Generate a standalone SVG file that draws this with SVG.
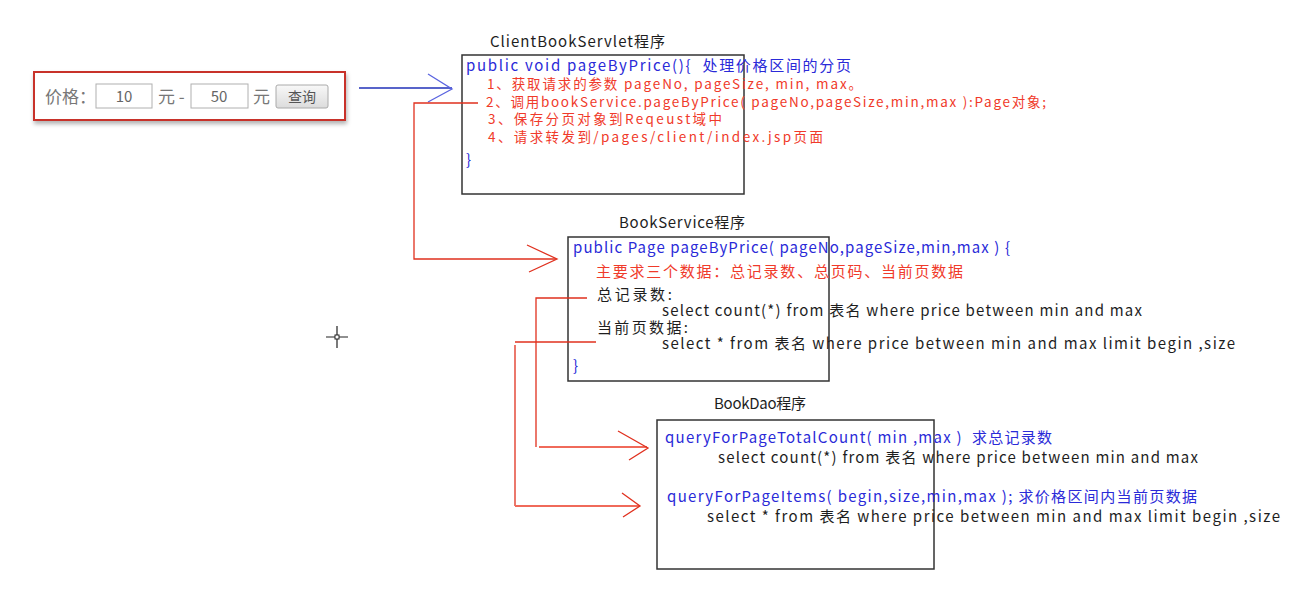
<svg xmlns="http://www.w3.org/2000/svg" width="1316" height="610" viewBox="0 0 1316 610">
<style>
text{font-family:"Noto Sans CJK SC","Liberation Sans",sans-serif;font-size:15px;}
.b{fill:#2a2ad8;}
.r{fill:#f03a2a;}
.s{font-size:13.5px;}
.k{fill:#1e1e1e;}
.box{fill:#fff;stroke:#333;stroke-width:1.5;}
.ln{fill:none;stroke:#e0301e;stroke-width:1.3;}
.ln2{fill:none;stroke:#f06a5a;stroke-width:2;}
.in{fill:#fff;stroke:#b0b0b0;stroke-width:1;}
.ui{fill:#777;font-size:17px;}
</style>
<defs>
<linearGradient id="btn" x1="0" y1="0" x2="0" y2="1">
<stop offset="0" stop-color="#f8f8f8"/><stop offset="1" stop-color="#dcdcdc"/>
</linearGradient>
<filter id="sh" x="-10%" y="-20%" width="120%" height="150%">
<feDropShadow dx="1" dy="3" stdDeviation="2" flood-color="#000" flood-opacity="0.3"/>
</filter>
</defs>
<rect width="1316" height="610" fill="#fff"/>

<g id="priceForm">
<rect x="34" y="72" width="311" height="48" fill="#fff" stroke="#c8302a" stroke-width="2" filter="url(#sh)"/>
<text class="ui" x="45" y="103">价格：</text>
<rect class="in" x="96" y="84" width="56" height="24"/>
<text x="124" y="102" text-anchor="middle" style="fill:#666;font-size:15px">10</text>
<text class="ui" x="158" y="103">元 -</text>
<rect class="in" x="191" y="84" width="57" height="24"/>
<text x="219" y="102" text-anchor="middle" style="fill:#666;font-size:15px">50</text>
<text class="ui" x="253" y="103">元</text>
<rect x="276" y="85" width="52" height="23" rx="2" fill="url(#btn)" stroke="#aaa"/>
<text x="302" y="102" text-anchor="middle" style="fill:#555;font-size:14px">查询</text>
</g>

<g id="clientBookServlet">
<text class="k" x="490" y="47" textLength="175">ClientBookServlet程序</text>
<rect class="box" x="462" y="55" width="282" height="139"/>
<text class="b" x="466" y="71" textLength="385" xml:space="preserve">public void pageByPrice(){  处理价格区间的分页</text>
<text class="r s" x="487" y="89" textLength="375">1、获取请求的参数 pageNo, pageSize, min, max。</text>
<text class="r s" x="486" y="106.5" textLength="560">2、调用bookService.pageByPrice( pageNo,pageSize,min,max ):Page对象;</text>
<text class="r s" x="488" y="124" textLength="234">3、保存分页对象到Reqeust域中</text>
<text class="r s" x="488" y="142" textLength="335">4、请求转发到/pages/client/index.jsp页面</text>
<text class="b" x="466" y="165">}</text>
</g>

<g id="bookService">
<text class="k" x="619" y="228" textLength="126">BookService程序</text>
<rect class="box" x="568" y="237" width="261" height="144"/>
<text class="b" x="573" y="253" textLength="437">public Page pageByPrice( pageNo,pageSize,min,max ) {</text>
<text class="r" x="596" y="277" textLength="367">主要求三个数据：总记录数、总页码、当前页数据</text>
<text class="k" x="597" y="300" textLength="75">总记录数:</text>
<text class="k" x="662" y="316" textLength="480">select count(*) from 表名 where price between min and max</text>
<text class="k" x="597" y="333" textLength="91">当前页数据:</text>
<text class="k" x="662" y="349" textLength="573">select * from 表名 where price between min and max limit begin ,size</text>
<text class="b" x="573" y="371">}</text>
</g>

<g id="bookDao">
<text class="k" x="714" y="409" textLength="92">BookDao程序</text>
<rect class="box" x="657" y="420" width="277" height="149"/>
<text class="b" x="665" y="443" textLength="387" xml:space="preserve">queryForPageTotalCount( min ,max )  求总记录数</text>
<text class="k" x="718" y="463" textLength="480">select count(*) from 表名 where price between min and max</text>
<text class="b" x="667" y="502" textLength="530">queryForPageItems( begin,size,min,max ); 求价格区间内当前页数据</text>
<text class="k" x="707" y="522" textLength="573">select * from 表名 where price between min and max limit begin ,size</text>
</g>

<g id="connectors">
<path d="M359 88 H452" fill="none" stroke="#2030b8" stroke-width="1.3"/>
<polyline points="428,74 452,89 428,102" fill="none" stroke="#5a64e0" stroke-width="1.3"/>
<polyline class="ln" points="478,103 414,103 414,259 556,259"/>
<polyline class="ln" points="527,245 557,259 529,272"/>
<polyline class="ln" points="587,298 536,298 536,447"/>
<path class="ln2" d="M539 447 H647"/>
<polyline class="ln" points="618,431 648,448 629,460"/>
<polyline class="ln" points="596,342 515,342"/>
<polyline class="ln" points="515,345 515,506"/>
<path class="ln2" d="M515 506 H639"/>
<polyline class="ln" points="622,493 640,506 623,517"/>
</g>

<g id="cursor">
<path d="M326 337 H348 M337 326 V348" stroke="#222" stroke-width="1.2"/>
<rect x="335" y="335" width="4" height="4" fill="#fff" stroke="#222" stroke-width="1"/>
</g>
</svg>
